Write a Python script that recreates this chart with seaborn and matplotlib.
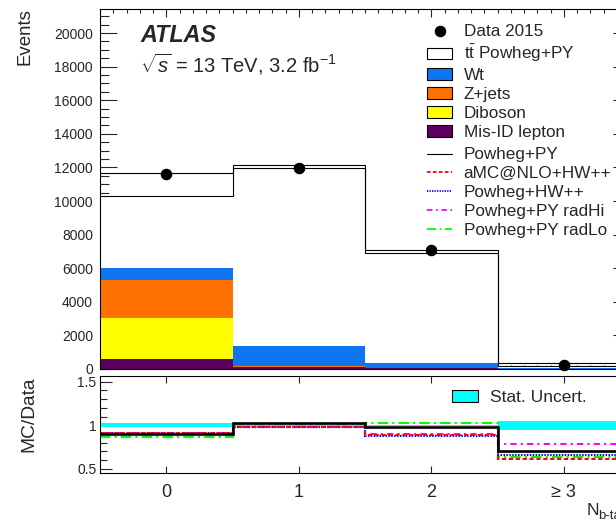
import numpy as np
import pandas as pd
import matplotlib
matplotlib.use("Agg")
import matplotlib.pyplot as plt
import seaborn as sns
from matplotlib.patches import Patch
from matplotlib.lines import Line2D
from matplotlib.ticker import MultipleLocator, FixedLocator, FixedFormatter

# ---- b-tag multiplicity bins ----
nbtag = [0, 1, 2, 3]
nbtag_labels = ["0", "1", "2", "\u2265 3"]

# ---- event counts per bin ----
data_2015 = [11620, 11960, 7080, 250]
ttbar = [4290, 10590, 6520, 150]
wt = [710, 1195, 300, 22]
zjets = [2260, 60, 15, 2]
diboson = [2440, 25, 5, 1]
misid = [600, 110, 60, 5]
powheg_py_alt = [11650, 12150, 7080, 330]

# ---- MC/Data ratios ----
stat_unc = [0.02, 0.008, 0.008, 0.05]
ratio_powheg_py = [0.90, 1.02, 0.98, 0.70]
ratio_amcnlo_hw = [0.915, 0.975, 0.89, 0.61]
ratio_powheg_hw = [0.91, 0.975, 0.88, 0.655]
ratio_radhi = [0.915, 0.978, 0.895, 0.79]
ratio_radlo = [0.87, 1.015, 1.027, 0.635]

processes = ["ttbar", "Wt", "Z+jets", "Diboson", "Mis-ID lepton"]
process_counts = [ttbar, wt, zjets, diboson, misid]
colors = {
    "ttbar": "#ffffff",
    "Wt": "#0f74f2",
    "Z+jets": "#ff7100",
    "Diboson": "#ffff00",
    "Mis-ID lepton": "#5c005f",
}

sns.set_style("ticks")
plt.rcParams["font.family"] = ["Liberation Sans", "DejaVu Sans"]
plt.rcParams["mathtext.fontset"] = "custom"
plt.rcParams["mathtext.rm"] = "Liberation Sans"
plt.rcParams["mathtext.it"] = "Liberation Sans:italic"
plt.rcParams["mathtext.bf"] = "Liberation Sans:bold"
plt.rcParams["axes.linewidth"] = 0.8
plt.rcParams["axes.edgecolor"] = "black"

W, H = 616, 523
fig = plt.figure(figsize=(W / 100, H / 100), dpi=100)
fig.patch.set_facecolor("white")


def frac_box(x0, y0, x1, y1):
    return [x0 / W, 1 - y1 / H, (x1 - x0) / W, (y1 - y0) / H]


ax = fig.add_axes(frac_box(100, 9, 630, 369))
axr = fig.add_axes(frac_box(100, 376, 630, 473))

edges = np.arange(-0.5, 4.0, 1.0)

# ---- stacked prediction ----
long = pd.DataFrame(
    [(b, p, c[i]) for p, c in zip(processes, process_counts) for i, b in enumerate(nbtag)],
    columns=["nbtag", "process", "events"],
)
sns.histplot(
    data=long, x="nbtag", weights="events", hue="process", hue_order=processes,
    multiple="stack", discrete=True, shrink=1, element="step", fill=True,
    palette=colors, alpha=1, linewidth=0, legend=False, ax=ax,
)
total = np.sum(np.array(process_counts), axis=0)
ax.stairs(total, edges, baseline=None, color="black", lw=0.8)
ax.stairs(powheg_py_alt, edges, baseline=None, color="black", lw=0.8)

ax.plot(nbtag, data_2015, "o", color="black", ms=7.3, clip_on=False, zorder=5)

ax.set_xlim(-0.5, 3.5)
ax.set_ylim(0, 21430)
ax.set_xlabel("")
ax.set_ylabel("")
ax.xaxis.set_major_locator(FixedLocator(nbtag))
ax.xaxis.set_minor_locator(MultipleLocator(0.1))
ax.yaxis.set_major_locator(MultipleLocator(2000))
ax.yaxis.set_minor_locator(MultipleLocator(500))
ax.tick_params(axis="x", which="both", direction="in", top=True, bottom=True,
               labelbottom=False, width=0.8)
ax.tick_params(axis="x", which="major", length=5.8)
ax.tick_params(axis="x", which="minor", length=3.2)
ax.tick_params(axis="y", which="both", direction="in", left=True, right=True,
               width=0.8, labelsize=10, pad=5)
ax.tick_params(axis="y", which="major", length=12.5)
ax.tick_params(axis="y", which="minor", length=6.5)
for s in ax.spines.values():
    s.set_visible(True)
    s.set_linewidth(0.8)

# ---- ratio panel ----
axr.stairs(1 + np.array(stat_unc), edges, baseline=1 - np.array(stat_unc),
           fill=True, color="#00ffff", lw=0)
styles = [
    (ratio_radlo, "#00ff00", (0, (5, 2, 1, 2))),
    (ratio_radhi, "#ff00ff", (0, (3, 2, 1, 2))),
    (ratio_powheg_hw, "#0000ff", (0, (0.7, 0.7))),
    (ratio_amcnlo_hw, "#ff0000", (0, (2, 1.3))),
]
for vals, c, ls in styles:
    axr.stairs(vals, edges, baseline=None, color=c, lw=1.5, linestyle=ls)
axr.stairs(ratio_powheg_py, edges, baseline=None, color="black", lw=1.9)

axr.set_xlim(-0.5, 3.5)
axr.set_ylim(0.451, 1.566)
axr.xaxis.set_major_locator(FixedLocator(nbtag))
axr.set_xticklabels(nbtag_labels)
axr.yaxis.set_major_locator(FixedLocator([0.5, 1.0, 1.5]))
axr.yaxis.set_major_formatter(FixedFormatter(["0.5", "1", "1.5"]))
axr.yaxis.set_minor_locator(MultipleLocator(0.1))
axr.tick_params(axis="x", which="major", direction="in", top=True, bottom=True,
                length=5, width=0.8, labelsize=13, pad=8)
axr.tick_params(axis="y", which="both", direction="in", left=True, right=True,
                width=0.8, labelsize=10, pad=2.5)
axr.tick_params(axis="y", which="major", length=8.6)
axr.tick_params(axis="y", which="minor", length=5)
for s in axr.spines.values():
    s.set_visible(True)
    s.set_linewidth(0.8)

# ---- texts ----
fig.text(25 / W, 1 - 8 / H, "Events", rotation=90, ha="center", va="top", fontsize=13.4)
fig.text(29 / W, 1 - 377 / H, "MC/Data", rotation=90, ha="center", va="top", fontsize=13.8)
fig.text(140 / W, 1 - 41.7 / H, "ATLAS", fontsize=16.8, fontweight="bold",
         fontstyle="italic", va="baseline")
fig.text(140 / W, 1 - 72.7 / H, r"$\sqrt{s}$ = 13 TeV, 3.2 fb$^{-1}$", fontsize=14.5,
         va="baseline")
# x-axis title: N with a b-tag subscript
fig.text(586.5 / W, 1 - 515 / H, "N", fontsize=12.5, va="baseline")
fig.text(598.5 / W, 1 - 519.5 / H, "b-tag", fontsize=9.5, va="baseline")

# ---- legends ----
leg_font = 12.3
h1 = [
    Line2D([], [], marker="o", color="black", ls="none", ms=7.3),
    Patch(facecolor="white", edgecolor="black", lw=0.8),
    Patch(facecolor=colors["Wt"], edgecolor="black", lw=0.8),
    Patch(facecolor=colors["Z+jets"], edgecolor="black", lw=0.8),
    Patch(facecolor=colors["Diboson"], edgecolor="black", lw=0.8),
    Patch(facecolor=colors["Mis-ID lepton"], edgecolor="black", lw=0.8),
]
l1 = ["Data 2015", r"$\mathrm{t\bar{t}}$ Powheg+PY", "Wt", "Z+jets", "Diboson", "Mis-ID lepton"]
leg1 = ax.legend(h1, l1, loc="upper left", bbox_to_anchor=(426.7 / W, 1 - 24.5 / H),
                 bbox_transform=fig.transFigure, frameon=False, fontsize=leg_font,
                 borderpad=0, borderaxespad=0, handlelength=1.5, handletextpad=0.66,
                 labelspacing=0.22)
ax.add_artist(leg1)
h2 = [
    Line2D([], [], color="black", lw=0.8),
    Line2D([], [], color="#ff0000", lw=1.3, ls=(0, (2, 1.3))),
    Line2D([], [], color="#0000ff", lw=1.3, ls=(0, (0.7, 0.7))),
    Line2D([], [], color="#ff00ff", lw=1.3, ls=(0, (3, 2, 1, 2))),
    Line2D([], [], color="#00ff00", lw=1.3, ls=(0, (5, 2, 1, 2))),
]
l2 = ["Powheg+PY", "aMC@NLO+HW++", "Powheg+HW++", "Powheg+PY radHi", "Powheg+PY radLo"]
ax.legend(h2, l2, loc="upper left", bbox_to_anchor=(426.7 / W, 1 - 147.5 / H),
          bbox_transform=fig.transFigure, frameon=False, fontsize=leg_font,
          borderpad=0, borderaxespad=0, handlelength=1.5, handletextpad=0.66,
          labelspacing=0.22)
axr.legend([Patch(facecolor="#00ffff", edgecolor="black", lw=0.8)], ["Stat. Uncert."],
           loc="upper left", bbox_to_anchor=(452 / W, 1 - 389.5 / H),
           bbox_transform=fig.transFigure, frameon=False, fontsize=12.5,
           borderpad=0, borderaxespad=0, handlelength=1.5, handletextpad=0.7)

fig.savefig("out.png", dpi=100)
